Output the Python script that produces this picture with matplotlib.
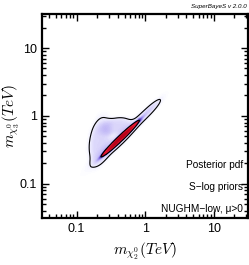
import numpy as np
import matplotlib
matplotlib.use("Agg")
import matplotlib.pyplot as plt
from matplotlib.colors import LinearSegmentedColormap

# posterior modelled as a few elongated blobs in log10 space (TeV)
comp_names = ["core", "halo", "blob_left", "blob_top", "tail"]
comp_u = [-0.36, -0.40, -0.66, -0.44, 0.06]      # log10 m_chi2 centre
comp_v = [-0.33, -0.36, -0.36, -0.15, 0.08]      # log10 m_chi3 centre
comp_angle = [44.0, 44.0, 80.0, 15.0, 45.0]      # orientation, degrees
comp_along = [0.30, 0.30, 0.30, 0.20, 0.17]      # sigma along the axis
comp_across = [0.032, 0.05, 0.13, 0.10, 0.035]   # sigma across the axis
comp_power = [4, 2, 4, 4, 2]                     # profile sharpness
comp_amp = [1.0, 0.10, 0.06, 0.06, 0.06]

levels = [0.024, 0.30]   # 95% and 68% contours (fraction of peak)
xlim = (10 ** -1.5, 10 ** 1.5)
ylim = (10 ** -1.5, 10 ** 1.5)
xticks = [0.1, 1, 10]
xticklabels = ["0.1", "1", "10"]
info_lines = ["Posterior pdf", "S\u2212log priors", "NUGHM\u2212low, \u03bc>0"]

plt.rcParams["mathtext.fontset"] = "cm"
plt.rcParams["font.family"] = ["Liberation Sans", "DejaVu Sans"]

u = np.linspace(-1.5, 1.5, 400)
U, V = np.meshgrid(u, u)
Z = np.zeros_like(U)
for cu, cv, ang, sa, sc, p, amp in zip(comp_u, comp_v, comp_angle, comp_along,
                                       comp_across, comp_power, comp_amp):
    t = np.deg2rad(ang)
    du, dv = U - cu, V - cv
    a = du * np.cos(t) + dv * np.sin(t)
    c = -du * np.sin(t) + dv * np.cos(t)
    Z += amp * np.exp(-0.5 * ((a / sa) ** 2 + (c / sc) ** 2) ** (p / 2))
Z = Z / Z.max()

cmap = LinearSegmentedColormap.from_list("sb", [
    (0.0, (1, 1, 1)),
    (0.012, (0.97, 0.97, 1.0)),
    (0.06, (0.84, 0.82, 0.98)),
    (0.18, (0.55, 0.48, 0.92)),
    (0.29, (0.18, 0.08, 0.45)),
    (0.35, (0.72, 0.0, 0.15)),
    (0.6, (0.92, 0.1, 0.2)),
    (1.0, (0.72, 0.0, 0.1)),
])

fig = plt.figure(figsize=(2.49, 2.65), dpi=100)
ax = fig.add_axes([0.17, 0.178, 0.826, 0.769])
X, Y = 10 ** U, 10 ** V
ax.pcolormesh(X, Y, Z, cmap=cmap, vmin=0, vmax=1, shading="auto", rasterized=True)
ax.contour(X, Y, Z, levels=levels, colors="black", linewidths=0.8)

ax.set_xscale("log")
ax.set_yscale("log")
ax.set_xlim(*xlim)
ax.set_ylim(*ylim)
ax.set_xticks(xticks)
ax.set_xticklabels(xticklabels)
ax.set_yticks(xticks)
ax.set_yticklabels(xticklabels)
ax.tick_params(which="both", direction="in", top=True, right=True, labelsize=9, width=1)
ax.tick_params(which="major", length=5, pad=4)
ax.tick_params(which="minor", length=3)
for s in ax.spines.values():
    s.set_linewidth(1.6)

ax.set_xlabel(r"$m_{\chi^0_2}(TeV)$", fontsize=11, labelpad=4)
ax.set_ylabel(r"$m_{\chi^0_3}(TeV)$", fontsize=11)
ax.yaxis.set_label_coords(-0.10, 0.5)

for i, line in enumerate(info_lines):
    ax.text(0.975, 0.26 - i * 0.108, line, transform=ax.transAxes,
            ha="right", va="center", fontsize=7.3)

fig.text(0.99, 0.985, "SuperBayeS v 2.0.0", ha="right", va="top",
         fontsize=4.5, style="italic")

fig.savefig("out.png", dpi=100)
